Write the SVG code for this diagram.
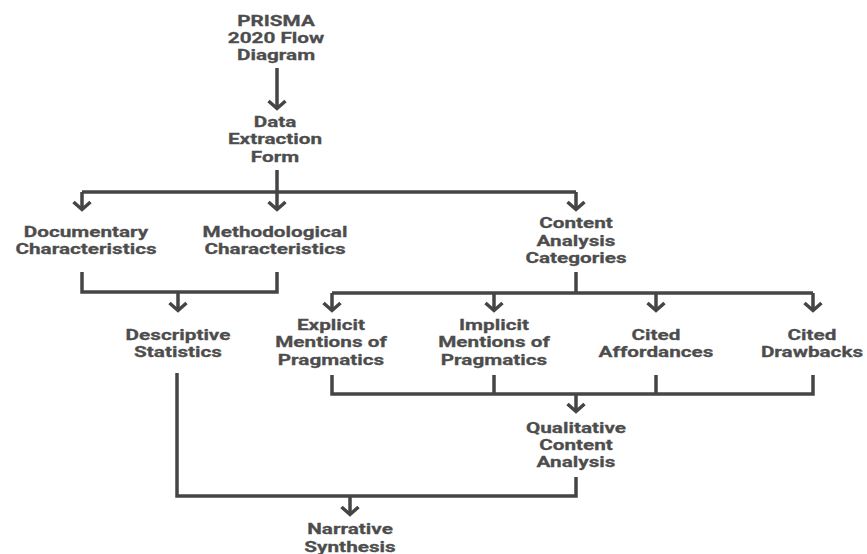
<svg xmlns="http://www.w3.org/2000/svg" width="867" height="554" viewBox="0 0 867 554">
<style>
  .lbl { font-family: Roboto, "Noto Sans", sans-serif; font-weight: 700; font-size: 14px; fill: #4d4d4d; text-anchor: middle; stroke: #4d4d4d; stroke-width: 0.25; }
  .ln { fill: none; stroke: #454545; stroke-width: 3.5; stroke-linecap: butt; stroke-linejoin: miter; }
  .ar { fill: none; stroke: #454545; stroke-width: 3.5; marker-end: url(#chev); }
</style>
<defs>
  <marker id="chev" markerUnits="userSpaceOnUse" viewBox="0 0 12 22" markerWidth="12" markerHeight="22" refX="10" refY="11" orient="auto">
    <path d="M2,2.5 L9.5,11 L2,19.5" fill="none" stroke="#454545" stroke-width="3.5"/>
  </marker>
</defs>
<rect width="867" height="554" fill="#ffffff"/>
<g id="connectors">
  <path class="ar" d="M277,68 V109"/>
  <path class="ln" d="M277,170 V192"/>
  <path class="ln" d="M82,192 H576"/>
  <path class="ar" d="M82,192 V210"/>
  <path class="ar" d="M277,192 V210"/>
  <path class="ar" d="M576,192 V210"/>
  <path class="ln" d="M82,272 V292 H277 V272"/>
  <path class="ar" d="M178,292 V311"/>
  <path class="ln" d="M576,272 V293"/>
  <path class="ln" d="M332,293 H813"/>
  <path class="ar" d="M332,293 V311"/>
  <path class="ar" d="M494,293 V311"/>
  <path class="ar" d="M656,293 V311"/>
  <path class="ar" d="M813,293 V311"/>
  <path class="ln" d="M332,375 V394 H813 V375"/>
  <path class="ln" d="M494,375 V394"/>
  <path class="ln" d="M656,375 V394"/>
  <path class="ar" d="M576,394 V412"/>
  <path class="ln" d="M177,373 V496 H576 V477"/>
  <path class="ar" d="M350,496 V515"/>
</g>
<g id="n-prisma">
  <text class="lbl" transform="translate(276 0) scale(1.48 1)"><tspan x="0" y="26">PRISMA</tspan><tspan x="0" y="43">2020 Flow</tspan><tspan x="0" y="60">Diagram</tspan></text>
</g>
<g id="n-extraction">
  <text class="lbl" transform="translate(275 0) scale(1.48 1)"><tspan x="0" y="127">Data</tspan><tspan x="0" y="144">Extraction</tspan><tspan x="0" y="162">Form</tspan></text>
</g>
<g id="n-documentary">
  <text class="lbl" transform="translate(86 0) scale(1.48 1)"><tspan x="0" y="237">Documentary</tspan><tspan x="0" y="254">Characteristics</tspan></text>
</g>
<g id="n-methodological">
  <text class="lbl" transform="translate(275 0) scale(1.48 1)"><tspan x="0" y="237">Methodological</tspan><tspan x="0" y="254">Characteristics</tspan></text>
</g>
<g id="n-content-categories">
  <text class="lbl" transform="translate(576 0) scale(1.48 1)"><tspan x="0" y="228">Content</tspan><tspan x="0" y="246">Analysis</tspan><tspan x="0" y="263">Categories</tspan></text>
</g>
<g id="n-descriptive">
  <text class="lbl" transform="translate(178 0) scale(1.48 1)"><tspan x="0" y="340">Descriptive</tspan><tspan x="0" y="357">Statistics</tspan></text>
</g>
<g id="n-explicit">
  <text class="lbl" transform="translate(331 0) scale(1.48 1)"><tspan x="0" y="330">Explicit</tspan><tspan x="0" y="347">Mentions of</tspan><tspan x="0" y="365">Pragmatics</tspan></text>
</g>
<g id="n-implicit">
  <text class="lbl" transform="translate(494 0) scale(1.48 1)"><tspan x="0" y="330">Implicit</tspan><tspan x="0" y="347">Mentions of</tspan><tspan x="0" y="365">Pragmatics</tspan></text>
</g>
<g id="n-affordances">
  <text class="lbl" transform="translate(656 0) scale(1.48 1)"><tspan x="0" y="340">Cited</tspan><tspan x="0" y="357">Affordances</tspan></text>
</g>
<g id="n-drawbacks">
  <text class="lbl" transform="translate(812 0) scale(1.48 1)"><tspan x="0" y="340">Cited</tspan><tspan x="0" y="357">Drawbacks</tspan></text>
</g>
<g id="n-qualitative">
  <text class="lbl" transform="translate(576 0) scale(1.48 1)"><tspan x="0" y="433">Qualitative</tspan><tspan x="0" y="450">Content</tspan><tspan x="0" y="467">Analysis</tspan></text>
</g>
<g id="n-narrative">
  <text class="lbl" transform="translate(350 0) scale(1.48 1)"><tspan x="0" y="534">Narrative</tspan><tspan x="0" y="552">Synthesis</tspan></text>
</g>
</svg>
